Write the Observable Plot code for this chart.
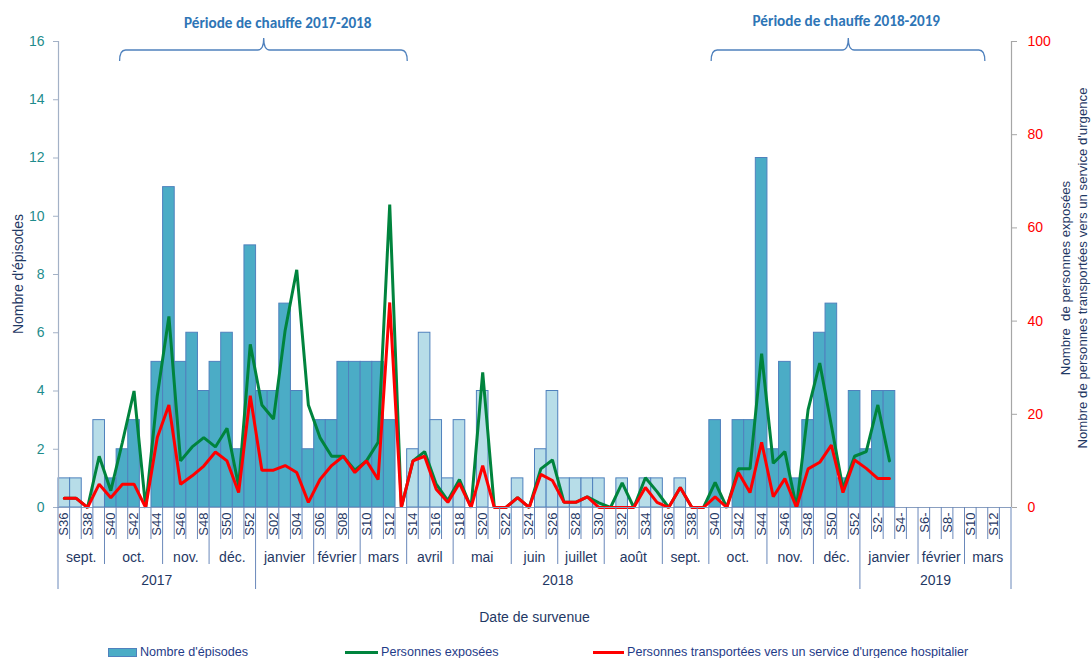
<!DOCTYPE html>
<html><head><meta charset="utf-8">
<script src="https://cdn.jsdelivr.net/npm/d3@7"></script>
<script src="https://cdn.jsdelivr.net/npm/@observablehq/plot@0.6"></script>
<style>
body{margin:0;background:#fff;font-family:"Liberation Sans",Arial,sans-serif;}
#chart svg{display:block;}
#legend{position:relative;height:16px;width:1091px;margin-top:2px;font-size:12.6px;color:#1f3c88;}
#legend .it{position:absolute;top:0;height:16px;display:flex;align-items:center;white-space:nowrap;}
#legend .sw{display:inline-block;margin-right:3px;}
</style></head>
<body><div id="chart"></div><div id="legend"></div>
<script>
// ---- categories ----
const weeks2017 = ["S36","S37","S38","S39","S40","S41","S42","S43","S44","S45","S46","S47","S48","S49","S50","S51","S52"];
const weeks2018 = ["S01","S02","S03","S04","S05","S06","S07","S08","S09","S10","S11","S12","S13","S14","S15","S16","S17","S18","S19","S20","S21","S22","S23","S24","S25","S26","S27","S28","S29","S30","S31","S32","S33","S34","S35","S36","S37","S38","S39","S40","S41","S42","S43","S44","S45","S46","S47","S48","S49","S50","S51","S52"];
const weeks2019 = ["S01","S02","S03","S04","S05","S06","S07","S08","S09","S10","S11","S12","S13"];
const tickLabels2019 = {"S02":"S2-","S04":"S4-","S06":"S6-","S08":"S8-","S10":"S10","S12":"S12"};
const monthLabels = ["sept.","oct.","nov.","déc.","janvier","février","mars","avril","mai","juin","juillet","août","sept.","oct.","nov.","déc.","janvier","février","mars"];
const monthStarts = ["2017-S36","2017-S40","2017-S45","2017-S49","2018-S01","2018-S06","2018-S10","2018-S14","2018-S18","2018-S23","2018-S27","2018-S31","2018-S36","2018-S40","2018-S45","2018-S49","2019-S01","2019-S06","2019-S10"];
const yearLabels = ["2017","2018","2019"];
const yearStarts = ["2017-S36","2018-S01","2019-S01"];
const heatingLabels = ["Période de chauffe 2017-2018","Période de chauffe 2018-2019"];
const heatingFrom = ["2017-S40","2018-S40"];
const heatingTo = ["2018-S13","2019-S13"];
// bracket extents in week-position units
const bracketFrom = [5.3, 56.2];
const bracketTo = [30.05, 79.75];
const bracketPeak = [17.7, 68.0];

// ---- series ----
const episodes = [1,1,0,3,1,2,3,0,5,11,5,6,4,5,6,2,9,
  4,4,7,4,2,3,3,5,5,5,5,3,0,2,6,3,1,3,0,4,0,0,1,0,2,4,1,1,1,1,0,1,0,1,1,0,1,0,0,3,0,3,3,12,2,5,1,3,6,7,1,4,
  2,4,4,0,0,0,0,0,0,0,0,0,0];
const exposed = [2,2,0,11,3.6,14,25,0,24,41,10,13,15,13,17,4.6,35,
  22,19,38,51,22,15,11,11,8,10,14,65,0,
  10,12,5,1.5,6,0,29,0,0,2.1,0,8.3,10.2,
  1.1,1.1,2.3,1,0,5.3,0,6.4,3.4,0,4.3,0,0,
  5.4,0,8.3,8.3,33,9.5,12,0,21,31,17.6,4,11,12,22,10];
const transported = [2,2,0,5,2.1,5,5,0,15,22,5,6.8,8.9,11.9,10,3.2,24,
  8,8,9,7.5,1.1,6,9,11,7.5,10,6,44,0,
  10,11,3.9,1.1,5.2,0,9,0,0,2.1,0,7.1,5.8,
  1.1,1.1,2.3,0,0,0,0,4.3,1.1,0,4.3,0,0,
  2.3,0,7.5,3.2,14,2.3,6.2,0,8.3,9.7,13.4,3.2,10.2,8.4,6.2,6.2];
const leftTicks = [0,2,4,6,8,10,12,14,16];
const rightTicks = [0,20,40,60,80,100];

// ---- derived tables ----
const weeks = [...weeks2017.map(w=>"2017-"+w), ...weeks2018.map(w=>"2018-"+w), ...weeks2019.map(w=>"2019-"+w)];
const pos = k => weeks.indexOf(k);
const RATIO = leftTicks[leftTicks.length-1] / rightTicks[rightTicks.length-1];
const inHeating = i => heatingFrom.some((f,j)=> i>=pos(f) && i<=pos(heatingTo[j]));
const DARK="#4bacc6", LIGHT="#b7dde8";
const bars = episodes.map((v,i)=>({x1:i, x2:i+1, v, fill: inHeating(i)?DARK:LIGHT})).filter(d=>d.v>0);
const greenData = exposed.map((v,i)=>({x:i+0.5, y:v*RATIO}));
const redData = transported.map((v,i)=>({x:i+0.5, y:v*RATIO}));
const tickLabel = i => { const [yr,w] = weeks[i].split("-"); return yr==="2019" ? (tickLabels2019[w]||w) : w; };
const tickPos = weeks.map((w,i)=>i).filter(i=>i%2===0).map(i=>i+0.5);

const W=1091, H=642, MT=41, MB=135, ML=58, MR=80;
const NAVY="#1f3864";
const chart = Plot.plot({
  width: W, height: H, marginTop: MT, marginBottom: MB, marginLeft: ML, marginRight: MR,
  x: {type:"linear", domain:[0, weeks.length]},
  y: {domain:[0,16]},
  color: {type:"identity"},
  style: {fontFamily:'"Liberation Sans", Arial, sans-serif', background:"#fff", overflow:"visible"},
  marks: [
    Plot.rectY(bars, {x1:"x1", x2:"x2", y:"v", fill:"fill", stroke:"#4f81bd", strokeWidth:1}),
    Plot.line(greenData, {x:"x", y:"y", stroke:"#00843d", strokeWidth:3, strokeLinejoin:"miter"}),
    Plot.line(redData, {x:"x", y:"y", stroke:"#ff0000", strokeWidth:3, strokeLinejoin:"miter"}),
    Plot.ruleX([0], {stroke:"#a3b1c6", strokeWidth:1.2}),
    Plot.ruleX([weeks.length], {stroke:"#a6a6a6", strokeWidth:1.2}),
    Plot.ruleY([0], {stroke:"#8a9fc0"}),
    Plot.axisY(leftTicks, {anchor:"left", tickSize:5, tickFormat:()=>"", color:"#a3b1c6", label:null}),
    Plot.axisY(leftTicks, {anchor:"left", tickSize:0, tickPadding:14, fontSize:14, color:"#1e8c8c", label:null}),
    Plot.axisY(rightTicks.map(v=>v*RATIO), {anchor:"right", tickSize:5, tickFormat:()=>"", color:"#a6a6a6", label:null}),
    Plot.axisY(rightTicks.map(v=>v*RATIO), {anchor:"right", tickSize:0, tickPadding:16, fontSize:14, color:"#ff0000", tickFormat:d=>String(Math.round(d/RATIO)), label:null}),
    Plot.axisX(tickPos, {anchor:"bottom", tickSize:0, tickPadding:5, tickRotate:-90, fontSize:13, color:NAVY, tickFormat:d=>tickLabel(Math.floor(d)), label:null})
  ]
});
document.getElementById("chart").appendChild(chart);

// ---- multi-level axis, titles, brackets (positions from Plot scales) ----
const xs = chart.scale("x"), ysc = chart.scale("y");
const X = v => xs.apply(v);
const y0 = ysc.apply(0), yTop = ysc.apply(16);
const yMid = (y0+yTop)/2;
const svg = d3.select(chart);
const g = svg.append("g").attr("fill","none").attr("stroke","#6a88ba").attr("stroke-width",1);
const monthB = monthStarts.map(pos), yearB = yearStarts.map(pos);
for (let k=0;k<=weeks.length;k++){
  let len = 32;
  if (monthB.includes(k)) len = 57;
  if (yearB.includes(k) || k===weeks.length) len = 82;
  g.append("line").attr("x1",X(k)).attr("x2",X(k)).attr("y1",y0).attr("y2",y0+len);
}
const t = svg.append("g").attr("fill",NAVY).attr("font-size",14).attr("text-anchor","middle");
monthLabels.forEach((m,j)=>{
  const a = monthB[j], b = j+1<monthB.length ? monthB[j+1] : weeks.length;
  t.append("text").attr("x",(X(a)+X(b))/2).attr("y",y0+55).text(m);
});
yearLabels.forEach((yl,j)=>{
  const a = yearB[j], b = j+1<yearB.length ? yearB[j+1] : weeks.length;
  t.append("text").attr("x",(X(a)+X(b))/2).attr("y",y0+78).text(yl);
});
t.append("text").attr("x",(X(0)+X(weeks.length))/2).attr("y",y0+115).text("Date de survenue");
t.append("text").attr("transform",`translate(23,${yMid}) rotate(-90)`).text("Nombre d'épisodes");
const rt = svg.append("g").attr("fill",NAVY).attr("font-size",13.2).attr("text-anchor","middle");
rt.append("text").attr("transform",`translate(1070,${yMid+4}) rotate(-90)`).text("Nombre  de personnes exposées");
rt.append("text").attr("transform",`translate(1087,${yMid-6}) rotate(-90)`).text("Nombre de personnes transportées vers un service d'urgence");
// heating-period braces
const bg = svg.append("g");
heatingLabels.forEach((lab,j)=>{
  const a = X(bracketFrom[j]), b = X(bracketTo[j]), p = X(bracketPeak[j]);
  const yb = 50, r = 6;
  const d = `M${a},${yb+11} Q${a},${yb} ${a+r},${yb} L${p-r},${yb} Q${p},${yb} ${p},${yb-12} Q${p},${yb} ${p+r},${yb} L${b-r},${yb} Q${b},${yb} ${b},${yb+11}`;
  bg.append("path").attr("d",d).attr("fill","none").attr("stroke","#4f81bd").attr("stroke-width",1.3);
  bg.append("text").attr("x",p+ (j===0?14:-2)).attr("y", j===0?28:26).attr("text-anchor","middle")
    .attr("font-family","Carlito, Roboto, sans-serif").attr("font-weight","bold").attr("font-size",15.2)
    .attr("fill","#2e75b6").text(lab);
});

// ---- legend ----
const legend = document.getElementById("legend");
const items = [
  {label:"Nombre d'épisodes", left:108, sw:`<span class="sw" style="width:27px;height:7px;background:${DARK};border:1px solid #4f81bd"></span>`},
  {label:"Personnes exposées", left:345, sw:`<span class="sw" style="width:33px;height:3px;background:#00843d"></span>`},
  {label:"Personnes transportées vers un service d'urgence hospitalier", left:593, sw:`<span class="sw" style="width:31px;height:3px;background:#ff0000"></span>`}
];
items.forEach(it=>{
  const d = document.createElement("div");
  d.className="it"; d.style.left = it.left+"px";
  d.innerHTML = it.sw + `<span>${it.label}</span>`;
  legend.appendChild(d);
});
</script>
</body></html>
